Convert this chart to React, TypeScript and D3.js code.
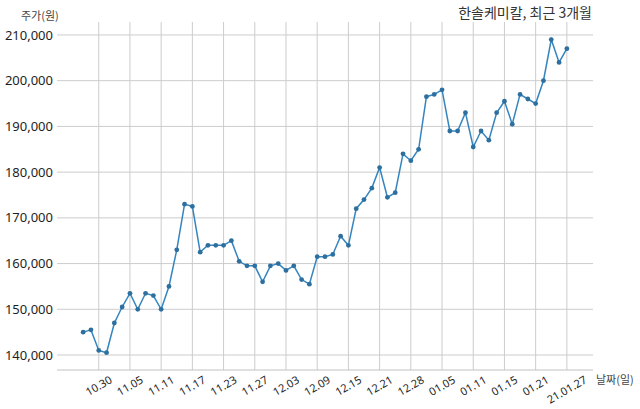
import React from "react";
import * as d3 from "d3";

const prices: number[] = [
  145000, 145500, 141000, 140500, 147000, 150500, 153500, 150000, 153500, 153000,
  150000, 155000, 163000, 173000, 172500, 162500, 164000, 164000, 164000, 165000,
  160500, 159500, 159500, 156000, 159500, 160000, 158500, 159500, 156500, 155500,
  161500, 161500, 162000, 166000, 164000, 172000, 174000, 176500, 181000, 174500,
  175500, 184000, 182500, 185000, 196500, 197000, 198000, 189000, 189000, 193000,
  185500, 189000, 187000, 193000, 195500, 190500, 197000, 196000, 195000, 200000,
  209000, 204000, 207000,
];

const tickLabels: string[] = [
  "10.30", "11.05", "11.11", "11.17", "11.23", "11.27", "12.03", "12.09",
  "12.15", "12.21", "12.28", "01.05", "01.11", "01.15", "01.21", "21.01.27",
];
const tickFirstIndex = 2;
const tickStep = 4;

const yTicks: number[] = [140000, 150000, 160000, 170000, 180000, 190000, 200000, 210000];

const title = "한솔케미칼, 최근 3개월";
const yAxisLabel = "주가(원)";
const xAxisLabel = "날짜(일)";

const W = 640;
const H = 409;
const left = 57;
const right = 593;
const top = 22;
const bottom = 370;

const fontNum = "'Noto Sans', 'Open Sans', 'Noto Sans CJK KR', sans-serif";
const fontKr = "'Noto Sans CJK KR', 'Noto Sans', sans-serif";

function labelWidth(s: string, size: number) {
  let w = 0;
  for (const c of s) w += c === "." ? 0.27 : 0.572;
  return w * size;
}

export default function App() {
  const x = d3.scaleLinear().domain([-3.35, prices.length - 1 + 3.35]).range([left, right]);
  const y = d3.scaleLinear().domain([136720, 212840]).range([bottom, top]);
  const line = d3
    .line<number>()
    .x((_, i) => x(i))
    .y((d) => y(d));
  const fmt = d3.format(",");
  const ang = (30 * Math.PI) / 180;
  const xFont = 11;

  return (
    <svg width={W} height={H} style={{ position: "absolute", left: 0, top: 0, background: "#fff" }}>
      {yTicks.map((t) => (
        <line key={"h" + t} x1={left} x2={right} y1={y(t)} y2={y(t)} stroke="#cccccc" strokeWidth={1} />
      ))}
      {tickLabels.map((lab, i) => {
        const xi = x(tickFirstIndex + i * tickStep);
        return <line key={"v" + lab} x1={xi} x2={xi} y1={top} y2={bottom} stroke="#cccccc" strokeWidth={1} />;
      })}
      <line x1={left} x2={right} y1={bottom} y2={bottom} stroke="#c2c2c2" strokeWidth={1} />

      {yTicks.map((t) => (
        <text
          key={"yl" + t}
          x={53}
          y={y(t)}
          dy="0.35em"
          textAnchor="end"
          fontFamily={fontNum}
          fontSize={13}
          fill="#1e1e1e"
        >
          {fmt(t)}
        </text>
      ))}

      {tickLabels.map((lab, i) => {
        const xi = x(tickFirstIndex + i * tickStep);
        const w = labelWidth(lab, xFont);
        const h = xFont * 0.8;
        const half = (w / 2) * Math.sin(ang) + (h / 2) * Math.cos(ang);
        const cy = 375 + half;
        return (
          <text
            key={"xl" + lab}
            x={xi}
            y={cy}
            dy="0.35em"
            textAnchor="middle"
            transform={`rotate(-30 ${xi} ${cy})`}
            fontFamily={fontNum}
            fontSize={xFont}
            fill="#1e1e1e"
          >
            {lab}
          </text>
        );
      })}

      <path d={line(prices) || ""} fill="none" stroke="#3485bf" strokeWidth={1.5} />
      {prices.map((p, i) => (
        <circle key={"c" + i} cx={x(i)} cy={y(p)} r={2.4} fill="#2d6f9f" />
      ))}

      <text x={21} y={20} fontFamily={fontKr} fontSize={11} fill="#444">
        {yAxisLabel}
      </text>
      <text x={596} y={384} fontFamily={fontKr} fontSize={11} fill="#444">
        {xAxisLabel}
      </text>
      <text x={592} y={18} textAnchor="end" fontFamily={fontKr} fontSize={14} fill="#333">
        {title}
      </text>
    </svg>
  );
}
